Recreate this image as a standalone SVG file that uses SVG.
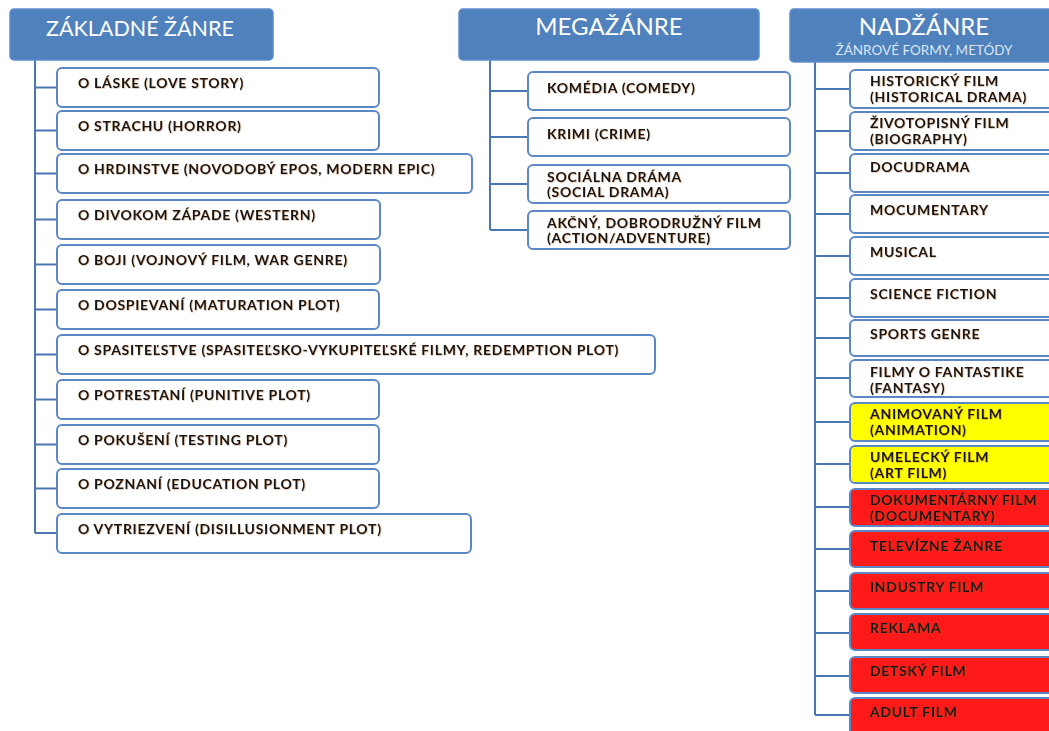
<svg xmlns="http://www.w3.org/2000/svg" width="1049" height="731" viewBox="0 0 1049 731">
  <style>
    .hdr { fill: #4f81bd; stroke: #5d8ccb; stroke-width: 1.5; }
    .hdr-t { font-family: Lato, "Liberation Sans", sans-serif; font-size: 24px; fill: #ffffff; text-anchor: middle; }
    .hdr-t.sm { font-size: 21.5px; }
    .hdr-s { font-family: Lato, "Liberation Sans", sans-serif; font-size: 13.5px; fill: #dce6f3; text-anchor: middle; }
    .box { fill: #ffffff; stroke: #5b87c5; stroke-width: 2; }
    .box.y { fill: #ffff00; }
    .box.r { fill: #ff1a1a; }
    .lbl { font-family: Lato, "Liberation Sans", sans-serif; font-size: 14px; font-weight: bold; letter-spacing: 0.7px; fill: #121212; filter: url(#glow); }
    .con { fill: none; stroke: #4a77b2; stroke-width: 2; }
  </style>
  <defs>
    <filter id="glow" x="-5%" y="-30%" width="110%" height="160%">
      <feDropShadow dx="0.6" dy="0.6" stdDeviation="0.6" flood-color="#a0602a" flood-opacity="0.5"/>
    </filter>
  </defs>

  <rect width="1049" height="731" fill="#ffffff"/>

  <!-- connectors -->
  <g id="connectors" class="con">
    <path d="M35 60 V533 M35 87.5 H57 M35 130.5 H57 M35 173.5 H57 M35 219.5 H57 M35 264.5 H57 M35 309.5 H57 M35 354.5 H57 M35 399.5 H57 M35 444.5 H57 M35 488.5 H57 M35 533 H57"/>
    <path d="M490 60 V230 M490 91 H528 M490 137 H528 M490 184 H528 M490 230 H528"/>
    <path d="M815 62 V715 M815 89 H850 M815 131 H850 M815 173 H850 M815 214 H850 M815 256 H850 M815 298 H850 M815 338 H850 M815 378 H850 M815 422 H850 M815 464 H850 M815 507 H850 M815 549 H850 M815 591 H850 M815 633 H850 M815 676 H850 M815 715 H850"/>
  </g>

  <!-- column 1: basic genres -->
  <g id="zakladne">
    <rect class="hdr" x="10" y="9" width="263" height="51" rx="4"/>
    <text class="hdr-t sm" x="140" y="36">ZÁKLADNÉ ŽÁNRE</text>
  </g>
  <g id="z-laske"><rect class="box" x="57" y="68" width="322" height="39" rx="5"/><text class="lbl" x="78" y="88">O LÁSKE (LOVE STORY)</text></g>
  <g id="z-strachu"><rect class="box" x="57" y="111" width="322" height="39" rx="5"/><text class="lbl" x="78" y="131">O STRACHU (HORROR)</text></g>
  <g id="z-hrdinstve"><rect class="box" x="57" y="154" width="415" height="39" rx="5"/><text class="lbl" x="78" y="174">O HRDINSTVE (NOVODOBÝ EPOS, MODERN EPIC)</text></g>
  <g id="z-zapad"><rect class="box" x="57" y="200" width="323" height="39" rx="5"/><text class="lbl" x="78" y="220">O DIVOKOM ZÁPADE (WESTERN)</text></g>
  <g id="z-boji"><rect class="box" x="57" y="245" width="323" height="39" rx="5"/><text class="lbl" x="78" y="265">O BOJI (VOJNOVÝ FILM, WAR GENRE)</text></g>
  <g id="z-dospievani"><rect class="box" x="57" y="290" width="322" height="39" rx="5"/><text class="lbl" x="78" y="310">O DOSPIEVANÍ (MATURATION PLOT)</text></g>
  <g id="z-spasitelstve"><rect class="box" x="57" y="335" width="598" height="39" rx="5"/><text class="lbl" x="78" y="355">O SPASITEĽSTVE (SPASITEĽSKO-VYKUPITEĽSKÉ FILMY, REDEMPTION PLOT)</text></g>
  <g id="z-potrestani"><rect class="box" x="57" y="380" width="322" height="39" rx="5"/><text class="lbl" x="78" y="400">O POTRESTANÍ (PUNITIVE PLOT)</text></g>
  <g id="z-pokuseni"><rect class="box" x="57" y="425" width="322" height="39" rx="5"/><text class="lbl" x="78" y="445">O POKUŠENÍ (TESTING PLOT)</text></g>
  <g id="z-poznani"><rect class="box" x="57" y="469" width="322" height="39" rx="5"/><text class="lbl" x="78" y="489">O POZNANÍ (EDUCATION PLOT)</text></g>
  <g id="z-vytriezveni"><rect class="box" x="57" y="514" width="414" height="39" rx="5"/><text class="lbl" x="78" y="534">O VYTRIEZVENÍ (DISILLUSIONMENT PLOT)</text></g>

  <!-- column 2: mega genres -->
  <g id="megazanre">
    <rect class="hdr" x="459" y="9" width="300" height="51" rx="4"/>
    <text class="hdr-t" x="609" y="35">MEGAŽÁNRE</text>
  </g>
  <g id="m-komedia"><rect class="box" x="528" y="72" width="262" height="38" rx="5"/><text class="lbl" x="547" y="93">KOMÉDIA (COMEDY)</text></g>
  <g id="m-krimi"><rect class="box" x="528" y="118" width="262" height="38" rx="5"/><text class="lbl" x="547" y="139">KRIMI (CRIME)</text></g>
  <g id="m-socialna"><rect class="box" x="528" y="165" width="262" height="38" rx="5"/><text class="lbl" x="547" y="182">SOCIÁLNA DRÁMA<tspan x="547" y="197">(SOCIAL DRAMA)</tspan></text></g>
  <g id="m-akcny"><rect class="box" x="528" y="211" width="262" height="38" rx="5"/><text class="lbl" x="547" y="228">AKČNÝ, DOBRODRUŽNÝ FILM<tspan x="547" y="243">(ACTION/ADVENTURE)</tspan></text></g>

  <!-- column 3: super genres -->
  <g id="nadzanre">
    <rect class="hdr" x="790" y="9" width="280" height="53" rx="4"/>
    <text class="hdr-t" x="924" y="35">NADŽÁNRE</text>
    <text class="hdr-s" x="924" y="55">ŽÁNROVÉ FORMY, METÓDY</text>
  </g>
  <g id="n-historicky"><rect class="box" x="850" y="70" width="220" height="38" rx="5"/><text class="lbl" x="870" y="86">HISTORICKÝ FILM<tspan x="870" y="102">(HISTORICAL DRAMA)</tspan></text></g>
  <g id="n-zivotopisny"><rect class="box" x="850" y="112" width="220" height="38" rx="5"/><text class="lbl" x="870" y="128">ŽIVOTOPISNÝ FILM<tspan x="870" y="144">(BIOGRAPHY)</tspan></text></g>
  <g id="n-docudrama"><rect class="box" x="850" y="154" width="220" height="38" rx="5"/><text class="lbl" x="870" y="172">DOCUDRAMA</text></g>
  <g id="n-mocumentary"><rect class="box" x="850" y="195" width="220" height="38" rx="5"/><text class="lbl" x="870" y="215">MOCUMENTARY</text></g>
  <g id="n-musical"><rect class="box" x="850" y="237" width="220" height="38" rx="5"/><text class="lbl" x="870" y="257">MUSICAL</text></g>
  <g id="n-scifi"><rect class="box" x="850" y="279" width="220" height="38" rx="5"/><text class="lbl" x="870" y="299">SCIENCE FICTION</text></g>
  <g id="n-sports"><rect class="box" x="850" y="320" width="220" height="36" rx="5"/><text class="lbl" x="870" y="339">SPORTS GENRE</text></g>
  <g id="n-fantasy"><rect class="box" x="850" y="360" width="220" height="37" rx="5"/><text class="lbl" x="870" y="377">FILMY O FANTASTIKE<tspan x="870" y="393">(FANTASY)</tspan></text></g>
  <g id="n-animovany"><rect class="box y" x="850" y="403" width="220" height="38" rx="5"/><text class="lbl" x="870" y="419">ANIMOVANÝ FILM<tspan x="870" y="435">(ANIMATION)</tspan></text></g>
  <g id="n-umelecky"><rect class="box y" x="850" y="446" width="220" height="37" rx="5"/><text class="lbl" x="870" y="462">UMELECKÝ FILM<tspan x="870" y="478">(ART FILM)</tspan></text></g>
  <g id="n-dokumentarny"><rect class="box r" x="850" y="489" width="220" height="37" rx="5"/><text class="lbl" x="870" y="505">DOKUMENTÁRNY FILM<tspan x="870" y="521">(DOCUMENTARY)</tspan></text></g>
  <g id="n-televizne"><rect class="box r" x="850" y="531" width="220" height="36" rx="5"/><text class="lbl" x="870" y="551">TELEVÍZNE ŽANRE</text></g>
  <g id="n-industry"><rect class="box r" x="850" y="573" width="220" height="36" rx="5"/><text class="lbl" x="870" y="592">INDUSTRY FILM</text></g>
  <g id="n-reklama"><rect class="box r" x="850" y="614" width="220" height="36" rx="5"/><text class="lbl" x="870" y="633">REKLAMA</text></g>
  <g id="n-detsky"><rect class="box r" x="850" y="657" width="220" height="36" rx="5"/><text class="lbl" x="870" y="676">DETSKÝ FILM</text></g>
  <g id="n-adult"><rect class="box r" x="850" y="698" width="220" height="50" rx="5"/><text class="lbl" x="870" y="717">ADULT FILM</text></g>
</svg>
